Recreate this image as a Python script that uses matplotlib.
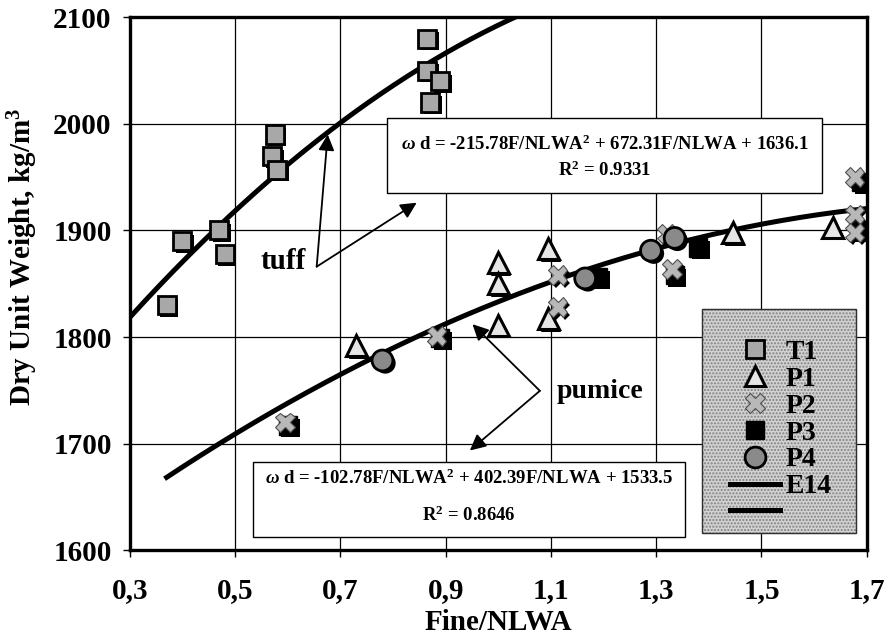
import numpy as np
import matplotlib
matplotlib.use("Agg")
import matplotlib.pyplot as plt
import matplotlib.patheffects as pe
from matplotlib.lines import Line2D
from matplotlib.patches import Rectangle

plt.rcParams['font.family'] = ['Liberation Serif', 'DejaVu Serif']
plt.rcParams['font.weight'] = 'bold'
plt.rcParams['mathtext.fontset'] = 'custom'
plt.rcParams['mathtext.default'] = 'regular'
plt.rcParams['mathtext.it'] = 'Liberation Serif:italic'
plt.rcParams['mathtext.rm'] = 'Liberation Serif:bold'

# tuff data
t1_x = [0.37, 0.40, 0.47, 0.48, 0.57, 0.575, 0.58, 0.865, 0.865, 0.89, 0.87]
t1_y = [1830, 1890, 1900, 1878, 1970, 1990, 1957, 2080, 2050, 2040, 2020]

# pumice data
p1_x = [0.73, 1.0, 1.0, 1.0, 1.095, 1.095, 1.445, 1.635]
p1_y = [1792, 1870, 1850, 1811, 1883, 1817, 1898, 1903]
p2_x = [0.595, 0.883, 1.113, 1.113, 1.32, 1.33, 1.677, 1.677, 1.677]
p2_y = [1720, 1801, 1858, 1828, 1897, 1864, 1950, 1915, 1898]
p3_x = [0.60, 0.89, 1.19, 1.38, 1.335, 1.69, 1.69]
p3_y = [1717, 1799, 1856, 1884, 1858, 1945, 1900]
p4_x = [0.78, 1.165, 1.29, 1.335]
p4_y = [1778, 1855, 1881, 1893]

# fitted curves (from the equations shown on the chart)
tuff_coef = [-215.78, 672.31, 1636.1]
pumice_coef = [-102.78, 402.39, 1533.5]
tuff_range = [0.3, 1.1]
pumice_range = [0.37, 1.7]

xticks = [0.3, 0.5, 0.7, 0.9, 1.1, 1.3, 1.5, 1.7]
xtick_labels = ["0,3", "0,5", "0,7", "0,9", "1,1", "1,3", "1,5", "1,7"]
yticks = [1600, 1700, 1800, 1900, 2000, 2100]

tuff_eq = r"$\mathit{\omega}$ d = -215.78F/NLWA$^2$ + 672.31F/NLWA + 1636.1"
tuff_r2 = r"R$^2$ = 0.9331"
pum_eq = r"$\mathit{\omega}$ d = -102.78F/NLWA$^2$ + 402.39F/NLWA + 1533.5"
pum_r2 = r"R$^2$ = 0.8646"

shadow = [pe.SimplePatchShadow(offset=(2, -2), shadow_rgbFace='black', alpha=1.0), pe.Normal()]

fig, ax = plt.subplots(figsize=(8.89, 6.39), dpi=100)
fig.subplots_adjust(left=0.146, right=0.975, top=0.973, bottom=0.139)

# curves
xt = np.linspace(tuff_range[0], tuff_range[1], 200)
ax.plot(xt, np.polyval(tuff_coef, xt), color='black', lw=3.6, zorder=4)
xp = np.linspace(pumice_range[0], pumice_range[1], 200)
ax.plot(xp, np.polyval(pumice_coef, xp), color='black', lw=3.6, zorder=4)

mk = dict(ls='none', path_effects=shadow, zorder=5)
ax.plot(p3_x, p3_y, marker='s', ms=13, mfc='black', mec='black', **mk)
ax.plot(t1_x, t1_y, marker='s', ms=13, mfc='#a8a8a8', mec='black', mew=2, **mk)
ax.plot(p1_x, p1_y, marker='^', ms=15, mfc='#e6e6e6', mec='black', mew=2.2, **mk)
ax.plot(p2_x, p2_y, marker='X', ms=14, mfc='#b8b8b8', mec='#505050', mew=0.8, **mk)
ax.plot(p4_x, p4_y, marker='o', ms=15, mfc='#8a8a8a', mec='black', mew=2, **mk)

ax.set_xlim(0.3, 1.7)
ax.set_ylim(1600, 2100)
ax.set_xticks(xticks)
ax.set_xticklabels(xtick_labels)
ax.set_yticks(yticks)
ax.grid(True, color='black', lw=0.9)
ax.set_axisbelow(True)
ax.tick_params(axis='both', labelsize=21, direction='out', length=5, width=1)
ax.tick_params(axis='x', pad=14)
ax.tick_params(axis='y', pad=8)
for s in ax.spines.values():
    s.set_linewidth(2.4)

ax.set_xlabel("Fine/NLWA", fontsize=21, fontweight='bold', labelpad=4)
ax.set_ylabel(r"Dry Unit Weight, kg/m$^{3}$", fontsize=21, fontweight='bold')
ax.yaxis.set_label_coords(-0.122, 0.55)

# equation boxes
ax.add_patch(Rectangle((0.349, 0.670), 0.590, 0.1405, transform=ax.transAxes,
                       facecolor='white', edgecolor='black', lw=1, zorder=6))
ax.text(0.644, 0.761, tuff_eq, transform=ax.transAxes, ha='center', va='center',
        fontsize=13.5, fontweight='bold', zorder=7)
ax.text(0.644, 0.713, tuff_r2, transform=ax.transAxes, ha='center', va='center',
        fontsize=13.5, fontweight='bold', zorder=7)

ax.add_patch(Rectangle((0.167, 0.024), 0.586, 0.141, transform=ax.transAxes,
                       facecolor='white', edgecolor='black', lw=1, zorder=6))
ax.text(0.46, 0.135, pum_eq, transform=ax.transAxes, ha='center', va='center',
        fontsize=13.5, fontweight='bold', zorder=7)
ax.text(0.46, 0.065, pum_r2, transform=ax.transAxes, ha='center', va='center',
        fontsize=13.5, fontweight='bold', zorder=7)

# annotations
arrow = dict(arrowstyle='-|>', color='black', lw=1.3, mutation_scale=24, shrinkA=0, shrinkB=0)
ax.text(0.592, 1871, "tuff", fontsize=21, fontweight='bold', ha='center', va='center')
ax.annotate('', xy=(0.676, 1990), xytext=(0.655, 1866), arrowprops=arrow)
ax.annotate('', xy=(0.845, 1926), xytext=(0.655, 1866), arrowprops=arrow)
ax.text(1.11, 1749, "pumice", fontsize=20, fontweight='bold', ha='left', va='center')
ax.annotate('', xy=(0.951, 1812), xytext=(1.079, 1749.5), arrowprops=arrow)
ax.annotate('', xy=(0.946, 1693.5), xytext=(1.079, 1749.5), arrowprops=arrow)

# legend box with stipple
plt.rcParams['hatch.linewidth'] = 1.0
ax.add_patch(Rectangle((0.776, 0.032), 0.209, 0.42, transform=ax.transAxes,
                       facecolor='#d2d2d2', edgecolor='#808080', hatch='.....',
                       lw=0.8, zorder=6))
ax.add_patch(Rectangle((0.776, 0.032), 0.209, 0.42, transform=ax.transAxes,
                       facecolor='none', edgecolor='#303030', lw=1, zorder=6))

handles = [
    Line2D([], [], ls='none', marker='s', ms=13, mfc='#a8a8a8', mec='black', mew=2),
    Line2D([], [], ls='none', marker='^', ms=15, mfc='#e6e6e6', mec='black', mew=2.2),
    Line2D([], [], ls='none', marker='X', ms=14, mfc='#b8b8b8', mec='#505050', mew=0.8),
    Line2D([], [], ls='none', marker='s', ms=13, mfc='black', mec='black'),
    Line2D([], [], ls='none', marker='o', ms=15, mfc='#8a8a8a', mec='black', mew=2),
    Line2D([], [], color='black', lw=3.6),
    Line2D([], [], color='black', lw=3.6),
]
labels = ["T1", "P1", "P2", "P3", "P4", "E14", ""]
leg = ax.legend(handles, labels, loc='center', bbox_to_anchor=(0.883, 0.22),
                frameon=False, prop={'family': 'Liberation Serif', 'weight': 'bold', 'size': 20},
                handlelength=1.8, handletextpad=0.2, labelspacing=0.05, borderpad=0)
leg.set_zorder(8)

fig.savefig("out.png", dpi=100)
